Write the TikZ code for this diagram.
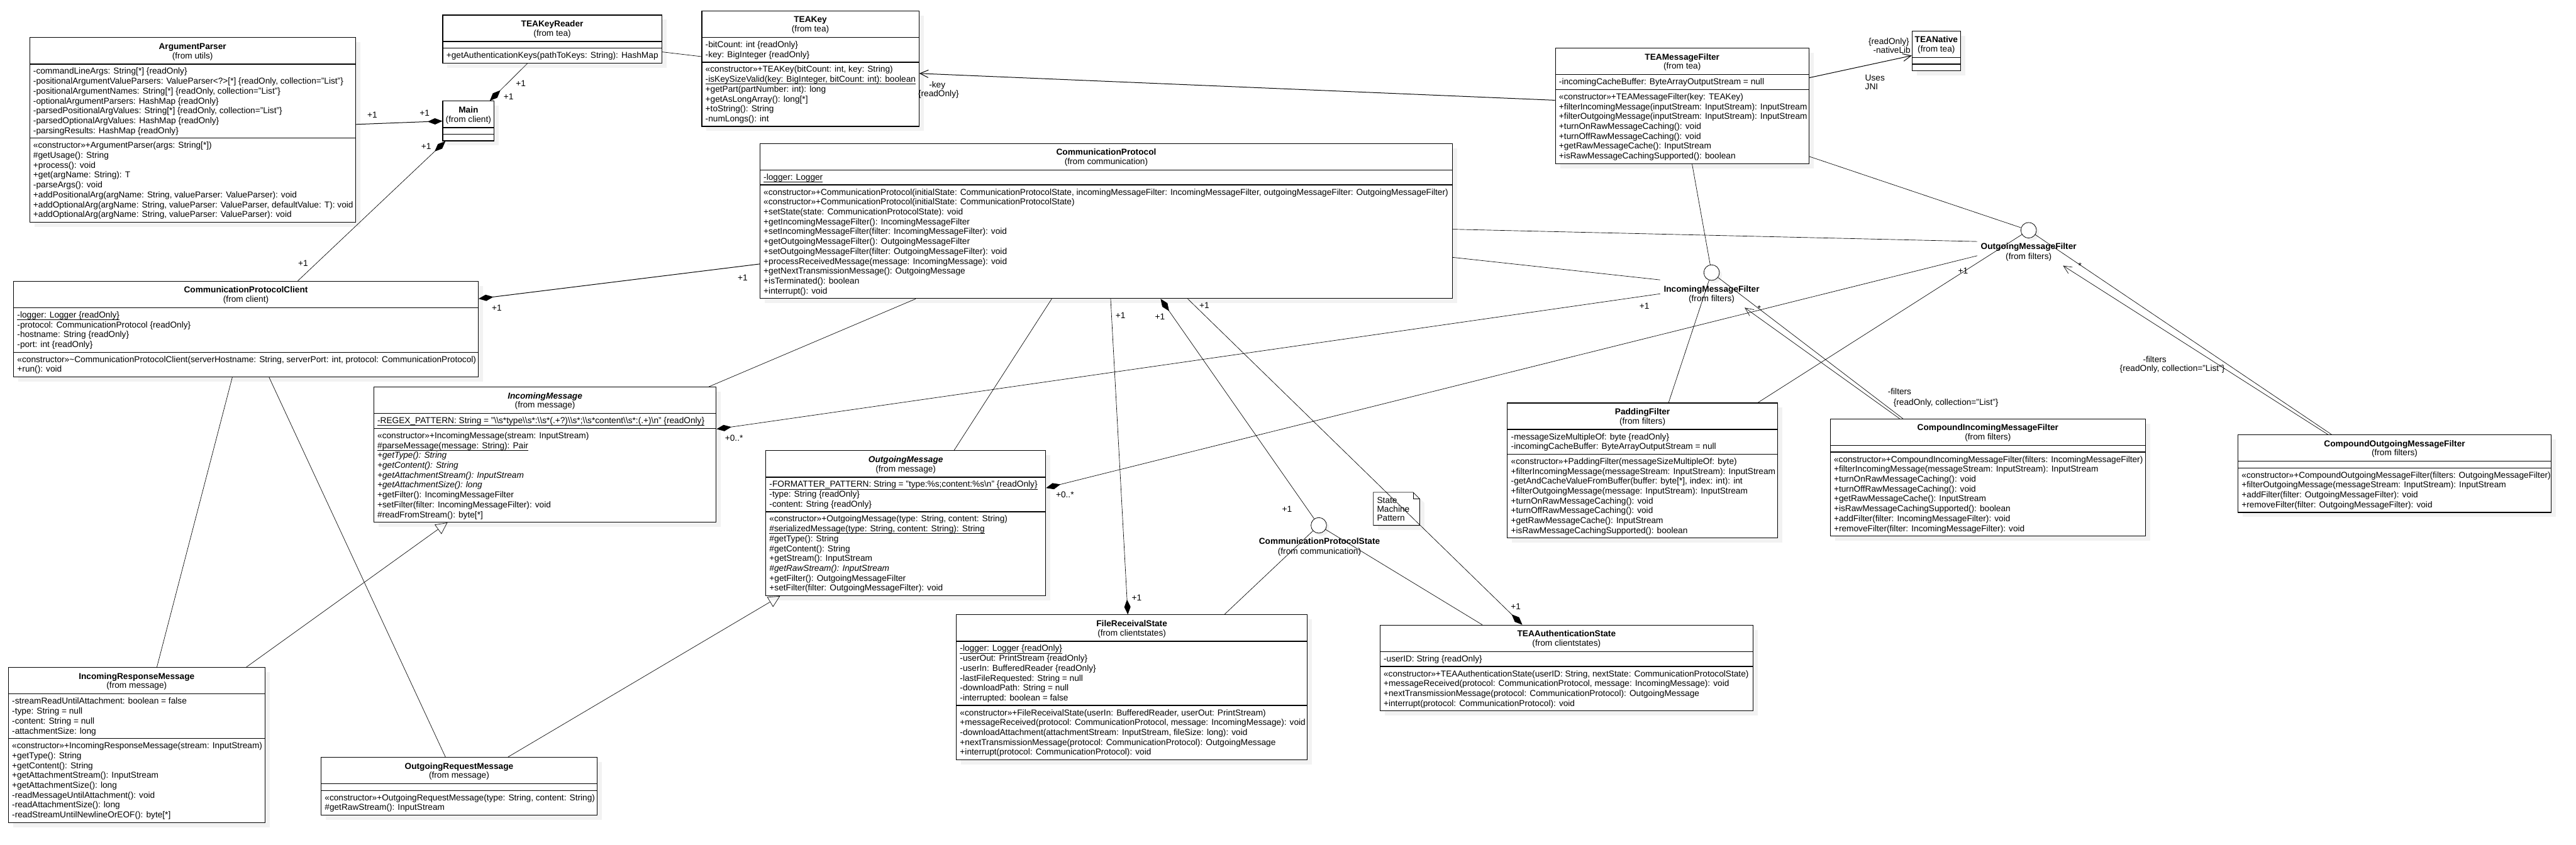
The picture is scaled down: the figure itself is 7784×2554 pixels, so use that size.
\documentclass[tikz,border=0pt]{standalone}
\usepackage{fontspec}
\setmainfont{Liberation Sans}
\usetikzlibrary{arrows.meta,fit,calc}
\newcommand\fsz{\fontsize{5.2pt}{5.97pt}\selectfont}
\newcommand\bsl{\textbackslash}
\newcommand\ul[1]{\setbox0\hbox{#1}\rlap{\rule[-1.3pt]{\wd0}{0.28pt}}\box0}
\tikzset{
  shadowc/.style={fill=black!5},
  classbox/.style={draw, line width=0.45pt, fill=white, inner sep=0pt},
  boxline/.style={line width=0.45pt},
  txt/.style={font=\fsz, inner sep=0pt},
  iflbl/.style={font=\fsz, inner xsep=2pt, inner ysep=0pt},
  ifc/.style={circle, draw, line width=0.3pt, fill=white, minimum size=9.4pt, inner sep=0pt},
  conn/.style={line width=0.25pt},
  connb/.style={line width=0.38pt},
  compd/.tip={Diamond[length=9pt,width=3.8pt]},
  openarr/.tip={Straight Barb[length=5pt,width=4.6pt]},
  genarr/.tip={Triangle[open,length=7pt,width=7pt]},
}
% #1 name #2 x0 #3 y0 #4 x1 #5 nAttr #6 nMeth #7 title #8 package
\newcommand\umlclass[8]{%
  \pgfmathsetmacro\uA{#5==0 ? 20 : 29.85*#5+15}%
  \pgfmathsetmacro\uM{#6==0 ? 20 : 29.85*#6+15}%
  \pgfmathsetmacro\uyH{#3+80}%
  \pgfmathsetmacro\uyA{\uyH+\uA}%
  \pgfmathsetmacro\uyB{\uyA+\uM}%
  \pgfmathsetmacro\uxc{(#2+#4)/2}%
  \xdef\ux{#2}\xdef\uyHg{\uyH}\xdef\uyAg{\uyA}\xdef\uname{#1}%
  \fill[shadowc] (#2+14,#3+14) rectangle (#4+14,\uyB+14);
  \node[classbox, fit={(#2,#3) (#4,\uyB)}] (#1) {};
  \draw[boxline] (#2,\uyH) -- (#4,\uyH) (#2,\uyA) -- (#4,\uyA);
  \node[txt, anchor=base] (#1-name) at (\uxc,#3+35) {#7};
  \node[txt, anchor=base] (#1-pkg) at (\uxc,#3+63) {#8};
}
\newcommand\umllines[3]{%
  \foreach \myline [count=\i] in {#3} {%
    \node[txt, anchor=base west] (\uname-#1-\i) at (\ux+10, #2+30.4+\i*29.85-29.85) {\myline};
  }%
}
\newcommand\umlattrs[1]{\umllines{a}{\uyHg}{#1}}
\newcommand\umlmeths[1]{\umllines{m}{\uyAg}{#1}}
\begin{document}
\begin{tikzpicture}[x=0.2pt,y=-0.2pt]
\fill[white] (0,0) rectangle (7784,2554);
\useasboundingbox (0,0) rectangle (7784,2554);

% ---------------- classes ----------------
\umlclass{ap}{89.7}{113.8}{1074}{7}{8}{\textbf{ArgumentParser}}{(from utils)}
\umlattrs{{-commandLineArgs: String[*] \{readOnly\}},
 {-positionalArgumentValueParsers: ValueParser<?>[*] \{readOnly, collection="List"\}},
 {-positionalArgumentNames: String[*] \{readOnly, collection="List"\}},
 {-optionalArgumentParsers: HashMap \{readOnly\}},
 {-parsedPositionalArgValues: String[*] \{readOnly, collection="List"\}},
 {-parsedOptionalArgValues: HashMap \{readOnly\}},
 {-parsingResults: HashMap \{readOnly\}}}
\umlmeths{{«constructor»+ArgumentParser(args: String[*])},
 {\#getUsage(): String},
 {+process(): void},
 {+get(argName: String): T},
 {-parseArgs(): void},
 {+addPositionalArg(argName: String, valueParser: ValueParser): void},
 {+addOptionalArg(argName: String, valueParser: ValueParser, defaultValue: T): void},
 {+addOptionalArg(argName: String, valueParser: ValueParser): void}}

\umlclass{tkr}{1338}{45.5}{1999.5}{0}{1}{\textbf{TEAKeyReader}}{(from tea)}
\umlmeths{{+getAuthenticationKeys(pathToKeys: String): HashMap}}

\umlclass{main}{1338}{305.8}{1493}{0}{0}{\textbf{Main}}{(from client)}

\umlclass{teakey}{2120.7}{33.3}{2776.8}{2}{6}{\textbf{TEAKey}}{(from tea)}
\umlattrs{{-bitCount: int \{readOnly\}},{-key: BigInteger \{readOnly\}}}
\umlmeths{{«constructor»+TEAKey(bitCount: int, key: String)},
 {\ul{-isKeySizeValid(key: BigInteger, bitCount: int): boolean}},
 {+getPart(partNumber: int): long},
 {+getAsLongArray(): long[*]},
 {+toString(): String},
 {-numLongs(): int}}

\umlclass{tmf}{4700}{145.7}{5466}{1}{7}{\textbf{TEAMessageFilter}}{(from tea)}
\umlattrs{{-incomingCacheBuffer: ByteArrayOutputStream = null}}
\umlmeths{{«constructor»+TEAMessageFilter(key: TEAKey)},
 {+filterIncomingMessage(inputStream: InputStream): InputStream},
 {+filterOutgoingMessage(inputStream: InputStream): InputStream},
 {+turnOnRawMessageCaching(): void},
 {+turnOffRawMessageCaching(): void},
 {+getRawMessageCache(): InputStream},
 {+isRawMessageCachingSupported(): boolean}}

\umlclass{tean}{5778}{94}{5924}{0}{0}{\textbf{TEANative}}{(from tea)}

\umlclass{cp}{2296.5}{434}{4388.9}{1}{11}{\textbf{CommunicationProtocol}}{(from communication)}
\umlattrs{{\ul{-logger: Logger}}}
\umlmeths{{«constructor»+CommunicationProtocol(initialState: CommunicationProtocolState, incomingMessageFilter: IncomingMessageFilter, outgoingMessageFilter: OutgoingMessageFilter)},
 {«constructor»+CommunicationProtocol(initialState: CommunicationProtocolState)},
 {+setState(state: CommunicationProtocolState): void},
 {+getIncomingMessageFilter(): IncomingMessageFilter},
 {+setIncomingMessageFilter(filter: IncomingMessageFilter): void},
 {+getOutgoingMessageFilter(): OutgoingMessageFilter},
 {+setOutgoingMessageFilter(filter: OutgoingMessageFilter): void},
 {+processReceivedMessage(message: IncomingMessage): void},
 {+getNextTransmissionMessage(): OutgoingMessage},
 {+isTerminated(): boolean},
 {+interrupt(): void}}

\umlclass{cpc}{41.2}{850}{1445}{4}{2}{\textbf{CommunicationProtocolClient}}{(from client)}
\umlattrs{{\ul{-logger: Logger \{readOnly\}}},
 {-protocol: CommunicationProtocol \{readOnly\}},
 {-hostname: String \{readOnly\}},
 {-port: int \{readOnly\}}}
\umlmeths{{«constructor»\textasciitilde CommunicationProtocolClient(serverHostname: String, serverPort: int, protocol: CommunicationProtocol)},
 {+run(): void}}

\umlclass{im}{1129.5}{1170}{2164.2}{1}{9}{\textbf{\textit{IncomingMessage}}}{(from message)}
\umlattrs{{\ul{-REGEX\_PATTERN: String = "\bsl\bsl s*type\bsl\bsl s*:\bsl\bsl s*(.+?)\bsl\bsl s*;\bsl\bsl s*content\bsl\bsl s*:(.+)\bsl n" \{readOnly\}}}}
\umlmeths{{«constructor»+IncomingMessage(stream: InputStream)},
 {\ul{\#parseMessage(message: String): Pair}},
 {\textit{+getType(): String}},
 {\textit{+getContent(): String}},
 {\textit{+getAttachmentStream(): InputStream}},
 {\textit{+getAttachmentSize(): long}},
 {+getFilter(): IncomingMessageFilter},
 {+setFilter(filter: IncomingMessageFilter): void},
 {\#readFromStream(): byte[*]}}

\umlclass{om}{2314}{1362.3}{3159.7}{3}{8}{\textbf{\textit{OutgoingMessage}}}{(from message)}
\umlattrs{{\ul{-FORMATTER\_PATTERN: String = "type:\%s;content:\%s\bsl n" \{readOnly\}}},
 {-type: String \{readOnly\}},
 {-content: String \{readOnly\}}}
\umlmeths{{«constructor»+OutgoingMessage(type: String, content: String)},
 {\ul{\#serializedMessage(type: String, content: String): String}},
 {\#getType(): String},
 {\#getContent(): String},
 {+getStream(): InputStream},
 {\textit{\#getRawStream(): InputStream}},
 {+getFilter(): OutgoingMessageFilter},
 {+setFilter(filter: OutgoingMessageFilter): void}}

\umlclass{pf}{4555}{1218}{5371}{2}{8}{\textbf{PaddingFilter}}{(from filters)}
\umlattrs{{-messageSizeMultipleOf: byte \{readOnly\}},
 {-incomingCacheBuffer: ByteArrayOutputStream = null}}
\umlmeths{{«constructor»+PaddingFilter(messageSizeMultipleOf: byte)},
 {+filterIncomingMessage(messageStream: InputStream): InputStream},
 {-getAndCacheValueFromBuffer(buffer: byte[*], index: int): int},
 {+filterOutgoingMessage(message: InputStream): InputStream},
 {+turnOnRawMessageCaching(): void},
 {+turnOffRawMessageCaching(): void},
 {+getRawMessageCache(): InputStream},
 {+isRawMessageCachingSupported(): boolean}}

\umlclass{cimf}{5530.6}{1266.5}{6483}{0}{8}{\textbf{CompoundIncomingMessageFilter}}{(from filters)}
\umlmeths{{«constructor»+CompoundIncomingMessageFilter(filters: IncomingMessageFilter)},
 {+filterIncomingMessage(messageStream: InputStream): InputStream},
 {+turnOnRawMessageCaching(): void},
 {+turnOffRawMessageCaching(): void},
 {+getRawMessageCache(): InputStream},
 {+isRawMessageCachingSupported(): boolean},
 {+addFilter(filter: IncomingMessageFilter): void},
 {+removeFilter(filter: IncomingMessageFilter): void}}

\umlclass{comf}{6762.7}{1314.3}{7708.8}{0}{4}{\textbf{CompoundOutgoingMessageFilter}}{(from filters)}
\umlmeths{{«constructor»+CompoundOutgoingMessageFilter(filters: OutgoingMessageFilter)},
 {+filterOutgoingMessage(messageStream: InputStream): InputStream},
 {+addFilter(filter: OutgoingMessageFilter): void},
 {+removeFilter(filter: OutgoingMessageFilter): void}}

\umlclass{frs}{2889.9}{1858.3}{3950}{6}{5}{\textbf{FileReceivalState}}{(from clientstates)}
\umlattrs{{\ul{-logger: Logger \{readOnly\}}},
 {-userOut: PrintStream \{readOnly\}},
 {-userIn: BufferedReader \{readOnly\}},
 {-lastFileRequested: String = null},
 {-downloadPath: String = null},
 {-interrupted: boolean = false}}
\umlmeths{{«constructor»+FileReceivalState(userIn: BufferedReader, userOut: PrintStream)},
 {+messageReceived(protocol: CommunicationProtocol, message: IncomingMessage): void},
 {-downloadAttachment(attachmentStream: InputStream, fileSize: long): void},
 {+nextTransmissionMessage(protocol: CommunicationProtocol): OutgoingMessage},
 {+interrupt(protocol: CommunicationProtocol): void}}

\umlclass{teaa}{4170}{1889.6}{5297}{1}{4}{\textbf{TEAAuthenticationState}}{(from clientstates)}
\umlattrs{{-userID: String \{readOnly\}}}
\umlmeths{{«constructor»+TEAAuthenticationState(userID: String, nextState: CommunicationProtocolState)},
 {+messageReceived(protocol: CommunicationProtocol, message: IncomingMessage): void},
 {+nextTransmissionMessage(protocol: CommunicationProtocol): OutgoingMessage},
 {+interrupt(protocol: CommunicationProtocol): void}}

\umlclass{irm}{25.5}{2017.8}{800.4}{4}{8}{\textbf{IncomingResponseMessage}}{(from message)}
\umlattrs{{-streamReadUntilAttachment: boolean = false},
 {-type: String = null},
 {-content: String = null},
 {-attachmentSize: long}}
\umlmeths{{«constructor»+IncomingResponseMessage(stream: InputStream)},
 {+getType(): String},
 {+getContent(): String},
 {+getAttachmentStream(): InputStream},
 {+getAttachmentSize(): long},
 {-readMessageUntilAttachment(): void},
 {-readAttachmentSize(): long},
 {-readStreamUntilNewlineOrEOF(): byte[*]}}

\umlclass{orm}{970.4}{2289.3}{1804}{0}{2}{\textbf{OutgoingRequestMessage}}{(from message)}
\umlmeths{{«constructor»+OutgoingRequestMessage(type: String, content: String)},
 {\#getRawStream(): InputStream}}

% ---------------- interfaces (lollipops) ----------------
\fill[shadowc] (5180,832) circle[radius=4.7pt];
\node[ifc] (imf) at (5172,824) {};
\fill[shadowc] (6138,704) circle[radius=4.7pt];
\node[ifc] (ogmf) at (6130,696) {};
\fill[shadowc] (3993,1596) circle[radius=4.7pt];
\node[ifc] (cps) at (3985,1588) {};

% ---------------- note ----------------
\fill[shadowc] (4164,1500) -- (4284,1500) -- (4304,1520) -- (4304,1602) -- (4164,1602) -- cycle;
\draw[line width=0.3pt, fill=white] (4150,1488) -- (4270,1488) -- (4290,1508) -- (4290,1588) -- (4150,1588) -- cycle;
\draw[line width=0.3pt] (4270,1488) -- (4270,1508) -- (4290,1508);
\node[txt, anchor=base west] (note1) at (4160,1522) {State};
\node[txt, anchor=base west] (note2) at (4160,1548) {Machine};
\node[txt, anchor=base west] (note3) at (4160,1574) {Pattern};

% ---------------- interface labels ----------------
\node[iflbl, anchor=base] (imfname) at (5172,882) {\textbf{IncomingMessageFilter}};
\node[iflbl, anchor=base] (imfpkg) at (5172,912) {(from filters)};
\node[iflbl, anchor=base] (ogmfname) at (6130,753) {\textbf{OutgoingMessageFilter}};
\node[iflbl, anchor=base] (ogmfpkg) at (6130,784) {(from filters)};
\node[iflbl, anchor=base] (cpsname) at (3987,1645) {\textbf{CommunicationProtocolState}};
\node[iflbl, anchor=base] (cpspkg) at (3987,1676) {(from communication)};

\coordinate (cimfEnd) at (5272,930);
\coordinate (comfEnd) at (6234,803);

% ---------------- connectors ----------------
\draw[connb,-compd] (ap.east |- 0,376) -- (main.west |- 0,366);
\draw[conn,-compd] (tkr.south -| 1594,0) -- (main.north -| 1480,0);
\draw[conn,compd-] (main.south -| 1346,0) -- (cpc.north -| 900,0);
\draw[conn] (tkr.east |- 0,157) -- (teakey.west |- 0,171);
\draw[connb,-openarr] (tmf.west |- 0,303) -- (teakey.east |- 0,222);
\draw[connb,-openarr] (tmf.east |- 0,235) -- (tean.west |- 0,168);
\draw[conn] (tmf.south -| 5113,0) -- (imf);
\draw[conn] (tmf.east |- 0,473) -- (ogmf);
\draw[conn] (cp.east |- 0,693) -- (ogmfname.west |- 0,730);
\draw[conn] (cp.east |- 0,778) -- (imfname.west |- 0,846);
\draw[conn,compd-] (im.east |- 0,1297) -- (imfname.west |- 0,888);
\draw[conn,compd-] (om.east |- 0,1475) -- (ogmfname.west |- 0,773);
\draw[conn] (pf.north -| 5042,0) -- (imf);
\draw[conn] (pf.north -| 5312,0) -- (ogmf);
\draw[conn] (cimf.north -| 5750,0) -- (imf);
\draw[conn,-openarr] (cimf.north -| 5740,0) -- (cimfEnd);
\draw[conn] (comf.north -| 7045,0) -- (ogmf);
\draw[conn,-openarr] (comf.north -| 7034,0) -- (comfEnd);
\draw[connb,compd-] (cpc.east |- 0,903) -- (cp.west |- 0,798);
\draw[conn] (cp.south -| 2767,0) -- (im.north -| 2142,0);
\draw[conn] (cp.south -| 3178,0) -- (om.north -| 2883,0);
\draw[conn,-compd] (cp.south -| 3356,0) -- (frs.north -| 3408,0);
\draw[conn,compd-] (cp.south -| 3507,0) -- (cps);
\draw[conn,-compd] (cp.south -| 3589,0) -- (teaa.north -| 4600,0);
\draw[conn] (frs.north -| 3700,0) -- (cps);
\draw[conn] (teaa.north -| 4479,0) -- (cps);
\draw[conn] (cpc.south -| 702,0) -- (irm.north -| 474,0);
\draw[conn] (cpc.south -| 813,0) -- (orm.north -| 1346,0);
\draw[conn,-genarr] (irm.north -| 744,0) -- (im.south -| 1352,0);
\draw[conn,-genarr] (orm.north -| 1535,0) -- (om.south -| 2357,0);

% ---------------- connector labels ----------------
\node[txt] (l1) at (1125,347) {+1};
\node[txt] (l2) at (1283,342) {+1};
\node[txt] (l3) at (1574,252) {+1};
\node[txt] (l4) at (1537,292) {+1};
\node[txt] (l5) at (1288,442) {+1};
\node[txt] (l6) at (916,795) {+1};
\node[txt] (l7) at (2832,258) {-key};
\node[txt] (l8) at (2836,285) {\{readOnly\}};
\node[txt, anchor=east] (l9) at (5770,128) {\{readOnly\}};
\node[txt, anchor=east] (l10) at (5774,152) {-nativeLib};
\node[txt, anchor=west] (l11) at (5635,235) {Uses};
\node[txt, anchor=west] (l12) at (5635,262) {JNI};
\node[txt] (l13) at (1501,930) {+1};
\node[txt] (l14) at (2244,839) {+1};
\node[txt] (l15) at (2218,1325) {+0..*};
\node[txt] (l16) at (4969,925) {+1};
\node[txt] (l17) at (3218,1495) {+0..*};
\node[txt] (l18) at (5932,818) {+1};
\node[txt] (l19) at (5316,933) {*};
\node[txt] (l20) at (5740,1183) {-filters};
\node[txt] (l21) at (5880,1218) {\{readOnly, collection="List"\}};
\node[txt] (l22) at (6285,803) {*};
\node[txt] (l23) at (6511,1086) {-filters};
\node[txt] (l24) at (6564,1115) {\{readOnly, collection="List"\}};
\node[txt] (l25) at (3386,953) {+1};
\node[txt] (l26) at (3435,1806) {+1};
\node[txt] (l27) at (3505,958) {+1};
\node[txt] (l28) at (3889,1539) {+1};
\node[txt] (l29) at (3639,923) {+1};
\node[txt] (l30) at (4580,1834) {+1};
\end{tikzpicture}
\end{document}
